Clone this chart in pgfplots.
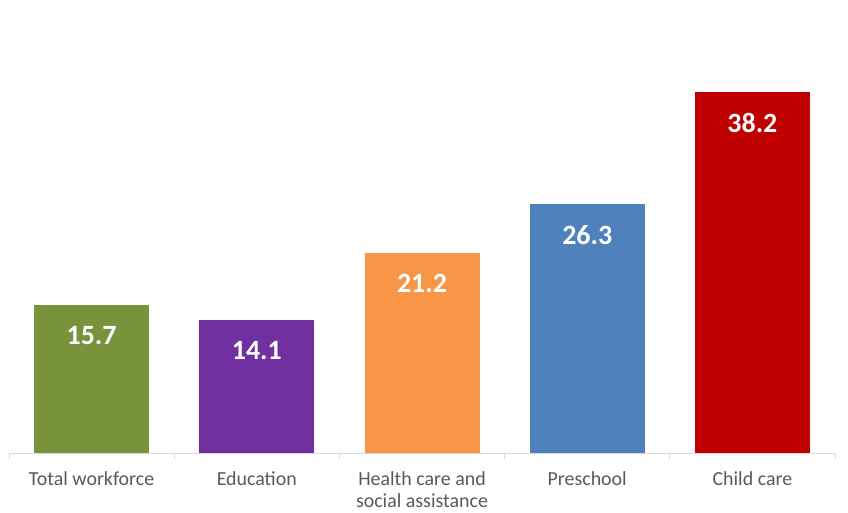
\documentclass[border=0pt]{standalone}
\usepackage{pgfplots}
\pgfplotsset{compat=1.18}
\usepackage{fontspec}
\setmainfont{Carlito}
\definecolor{cgreen}{HTML}{77933C}
\definecolor{cpurple}{HTML}{7030A0}
\definecolor{corange}{HTML}{F79646}
\definecolor{cblue}{HTML}{4F81BD}
\definecolor{cred}{HTML}{C00000}
\definecolor{labgray}{HTML}{595959}
\definecolor{axgray}{HTML}{D9D9D9}
\begin{document}
\begin{tikzpicture}
\path[use as bounding box] (-9bp,-60bp) rectangle (839bp,453bp);
\begin{axis}[
  scale only axis,
  width=826bp, height=453bp,
  xmin=-0.5, xmax=4.5,
  ymin=0, ymax=47.94,
  axis x line*=bottom,
  axis y line=none,
  axis line style={axgray, line width=1bp, -},
  xtick={0,1,2,3,4},
  xticklabels={Total workforce, Education, {Health care and\\social assistance}, Preschool, Child care},
  xticklabel style={align=center, font=\fontsize{20}{22.5}\selectfont, text=labgray, yshift=-15bp},
  major tick length=0pt,
  minor xtick={-0.5,0.5,1.5,2.5,3.5,4.5},
  minor tick length=6bp,
  minor tick style={axgray, line width=1bp},
  tick align=outside,
  ybar, bar width=115bp, bar shift=0pt,
  nodes near coords,
  nodes near coords style={font=\fontsize{28}{32}\bfseries\selectfont, text=white, anchor=center, yshift=-31bp},
  every node near coord/.append style={/pgf/number format/fixed, /pgf/number format/precision=1, /pgf/number format/fixed zerofill, /pgf/number format/assume math mode=true},
]
\addplot[fill=cgreen, draw=none] coordinates {(0,15.7)};
\addplot[fill=cpurple, draw=none] coordinates {(1,14.1)};
\addplot[fill=corange, draw=none] coordinates {(2,21.2)};
\addplot[fill=cblue, draw=none] coordinates {(3,26.3)};
\addplot[fill=cred, draw=none] coordinates {(4,38.2)};
\end{axis}
\end{tikzpicture}
\end{document}
